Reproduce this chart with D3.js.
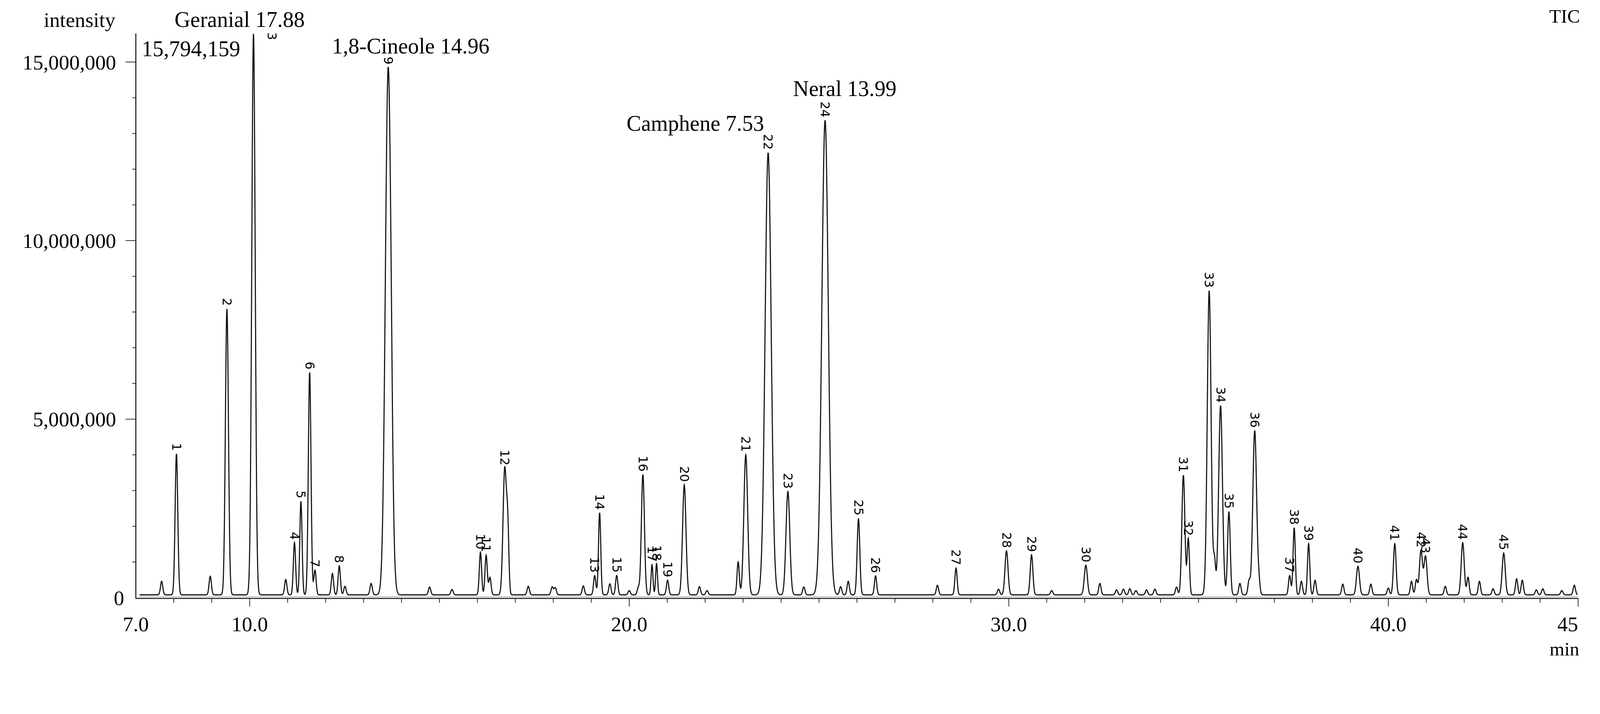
<!DOCTYPE html>
<html><head><meta charset="utf-8">
<script src="https://cdn.jsdelivr.net/npm/d3@7"></script>
<style>html,body{margin:0;padding:0;overflow:hidden;background:#fff}svg{display:block}svg text{font-family:"Liberation Serif","Times New Roman",serif}</style>
</head><body><svg id="chart" viewBox="0 0 4382 1829" preserveAspectRatio="xMinYMin meet" style="width:100vw;height:100vh"></svg>
<script>
// labelled peaks: retention time (min), height (intensity)
const peakNums = d3.range(1, 46);
const peakTimes = [8.07, 9.40, 10.10, 11.18, 11.35, 11.58, 11.72, 12.36, 13.65, 16.08, 16.23, 16.72, 19.09, 19.22, 19.67, 20.36, 20.60, 20.72, 21.01, 21.45,
  23.07, 23.66, 24.18, 25.16, 26.04, 26.49, 28.61, 29.94, 30.60, 32.03, 34.60, 34.73, 35.28, 35.58, 35.80, 36.48, 37.40, 37.52, 37.90, 39.20,
  40.17, 40.86, 40.98, 41.96, 43.04];
const peakHeights = [4.03e6, 8.09e6, 15.79e6, 1.54e6, 2.70e6, 6.31e6, 0.77e6, 0.89e6, 14.85e6, 1.27e6, 1.19e6, 3.62e6, 0.62e6, 2.38e6, 0.62e6, 3.45e6, 0.92e6, 0.95e6, 0.49e6, 3.16e6,
  4.0e6, 12.46e6, 2.97e6, 13.37e6, 2.22e6, 0.61e6, 0.83e6, 1.31e6, 1.20e6, 0.91e6, 3.43e6, 1.65e6, 8.6e6, 5.38e6, 2.41e6, 4.68e6, 0.62e6, 1.96e6, 1.51e6, 0.88e6,
  1.51e6, 1.32e6, 1.16e6, 1.54e6, 1.25e6];
const peakWidths = [0.035, 0.04, 0.045, 0.03, 0.03, 0.035, 0.03, 0.03, 0.075, 0.03, 0.03, 0.045, 0.03, 0.03, 0.03, 0.04, 0.025, 0.025, 0.03, 0.045,
  0.05, 0.08, 0.05, 0.085, 0.035, 0.03, 0.03, 0.04, 0.035, 0.04, 0.04, 0.03, 0.05, 0.05, 0.035, 0.05, 0.03, 0.03, 0.03, 0.04,
  0.035, 0.04, 0.04, 0.04, 0.04];
// small unlabelled peaks
const minorTimes = [7.68, 8.96, 10.95, 12.18, 12.51, 13.2, 13.73, 14.74, 15.33, 16.33, 16.8, 17.34, 17.97, 18.05, 18.79, 19.49, 20.0, 20.24, 21.85, 22.05, 22.87,
  24.6, 25.57, 25.77, 28.12, 29.73, 31.13, 32.4, 32.84, 33.02, 33.19, 33.35, 33.63, 33.85, 34.42, 35.42, 36.09, 36.33, 36.59, 37.71, 38.07, 38.8, 39.54, 40.0,
  40.61, 40.74, 41.5, 42.1, 42.4, 42.76, 43.38, 43.53, 43.9, 44.07, 44.57, 44.9];
const minorHeights = [0.46e6, 0.6e6, 0.51e6, 0.68e6, 0.32e6, 0.4e6, 0.62e6, 0.3e6, 0.23e6, 0.57e6, 1.7e6, 0.32e6, 0.3e6, 0.28e6, 0.33e6, 0.39e6, 0.2e6, 0.28e6, 0.31e6, 0.2e6, 1.0e6,
  0.3e6, 0.31e6, 0.46e6, 0.35e6, 0.24e6, 0.2e6, 0.4e6, 0.22e6, 0.24e6, 0.25e6, 0.2e6, 0.22e6, 0.24e6, 0.3e6, 1.0e6, 0.4e6, 0.46e6, 0.38e6, 0.46e6, 0.49e6, 0.38e6, 0.38e6, 0.27e6,
  0.46e6, 0.5e6, 0.32e6, 0.57e6, 0.46e6, 0.25e6, 0.53e6, 0.49e6, 0.22e6, 0.25e6, 0.2e6, 0.35e6];
const baselineLevel = 0.08e6;
const xTickVals = [7, 10, 20, 30, 40, 45];
const xTickLabels = ["7.0", "10.0", "20.0", "30.0", "40.0", "45"];
const yTickVals = [0, 5e6, 10e6, 15e6];
const yTickLabels = ["0", "5,000,000", "10,000,000", "15,000,000"];
const compoundNotes = [
  {text: "Geranial 17.88", x: 478, y: 74},
  {text: "15,794,159", x: 388, y: 154},
  {text: "1,8-Cineole 14.96", x: 909, y: 147},
  {text: "Neral 13.99", x: 2172, y: 263},
  {text: "Camphene 7.53", x: 1716, y: 358}
];

const svg = d3.select('#chart');
const x = d3.scaleLinear().domain([7, 45]).range([372, 4322]);
const y = d3.scaleLinear().domain([0, 15e6]).range([1638, 170]);
const axisY = 1640, axisTop = 92;

// chromatogram trace built from the peak table
const peaks = peakTimes.map((t, i) => ({t, h: peakHeights[i], w: peakWidths[i]}))
  .concat(minorTimes.map((t, i) => ({t, h: minorHeights[i], w: 0.03})));
const times = d3.range(7.1, 44.99, 0.005);
const trace = times.map(t => {
  let v = baselineLevel;
  peaks.forEach(p => { const d = (t - p.t) / p.w; if (Math.abs(d) < 6) v += (p.h - baselineLevel) * Math.exp(-0.5 * d * d); });
  return [t, v];
});

svg.append('line').attr('x1', x(7.1)).attr('x2', x(45)).attr('y1', y(0.03e6)).attr('y2', y(0.03e6))
  .attr('stroke', '#aaa').attr('stroke-width', 2);
svg.append('path').datum(trace)
  .attr('d', d3.line().x(d => x(d[0])).y(d => y(d[1])))
  .attr('fill', 'none').attr('stroke', '#111').attr('stroke-width', 3);

// axes
svg.append('line').attr('x1', 372).attr('x2', 372).attr('y1', axisTop).attr('y2', axisY).attr('stroke', '#222').attr('stroke-width', 3);
svg.append('line').attr('x1', 372).attr('x2', x(45)).attr('y1', axisY).attr('y2', axisY).attr('stroke', '#222').attr('stroke-width', 3);
d3.range(8, 46).forEach(t => {
  const major = t % 10 === 0 || t === 45;
  svg.append('line').attr('x1', x(t)).attr('x2', x(t)).attr('y1', axisY).attr('y2', axisY + (major ? 22 : 12))
    .attr('stroke', '#222').attr('stroke-width', 2);
});
d3.range(1e6, 16e6, 1e6).forEach(v => {
  const major = v % 5e6 === 0;
  svg.append('line').attr('x1', 372 - (major ? 28 : 10)).attr('x2', 372).attr('y1', y(v)).attr('y2', y(v))
    .attr('stroke', '#222').attr('stroke-width', 2);
});
xTickVals.forEach((v, i) => {
  svg.append('text').attr('x', x(v)).attr('y', 1730).attr('text-anchor', v === 45 ? 'end' : 'middle')
    .attr('font-size', 57).text(xTickLabels[i]);
});
yTickVals.forEach((v, i) => {
  svg.append('text').attr('x', v === 0 ? 340 : 318).attr('y', y(v) + 20).attr('text-anchor', 'end')
    .attr('font-size', 57).text(yTickLabels[i]);
});
svg.append('text').attr('x', 316).attr('y', 74).attr('text-anchor', 'end').attr('font-size', 57).text('intensity');
svg.append('text').attr('x', 4327).attr('y', 62).attr('text-anchor', 'end').attr('font-size', 52).text('TIC');
svg.append('text').attr('x', 4325).attr('y', 1796).attr('text-anchor', 'end').attr('font-size', 52).text('min');

compoundNotes.forEach(n => {
  svg.append('text').attr('x', n.x).attr('y', n.y).attr('font-size', 60).text(n.text);
});

// peak number labels, rotated and centred over the peak
peakNums.forEach((n, i) => {
  let px = x(peakTimes[i]), py = y(peakHeights[i]) - 8;
  if (n === 3) { px = x(peakTimes[i]) + 50; py = 110; }
  svg.append('text').attr('transform', `translate(${px},${py}) rotate(90)`)
    .attr('text-anchor', 'end').attr('dy', '0.35em').attr('font-size', 34)
    .style('font-family', '"DejaVu Sans", sans-serif').text(n);
});
</script></body></html>
